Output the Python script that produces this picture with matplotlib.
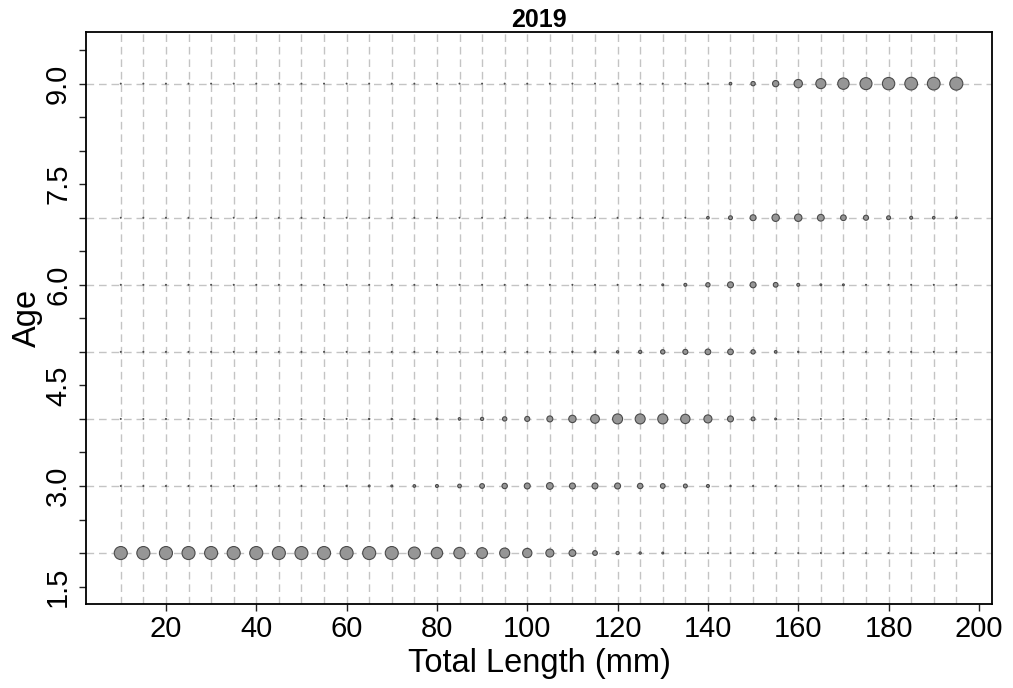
import matplotlib
matplotlib.use("Agg")
import matplotlib.pyplot as plt
import numpy as np

# length classes (mm) and ages
lengths = np.arange(10, 200, 5)
ages = [2, 3, 4, 5, 6, 7, 9]

# proportion at age per length class (area ~ proportion)
p_age2 = [1.0] * 13 + [0.85, 0.76, 0.76, 0.68, 0.59, 0.51, 0.38, 0.27, 0.13, 0.06, 0.03, 0.02] + [0] * 13
p_age3 = [0] * 10 + [0.01, 0.02, 0.02, 0.04, 0.05, 0.08, 0.13, 0.17, 0.21, 0.27, 0.21, 0.21, 0.21,
                     0.17, 0.13, 0.09, 0.05, 0.01] + [0] * 10
p_age4 = [0] * 10 + [0.005, 0.01, 0.01, 0.01, 0.02, 0.04, 0.06, 0.11, 0.15, 0.21, 0.32, 0.45, 0.59,
                     0.59, 0.59, 0.51, 0.38, 0.21, 0.09, 0.02] + [0] * 8
p_age5 = [0] * 20 + [0.01, 0.02, 0.03, 0.06, 0.11, 0.15, 0.19, 0.19, 0.11, 0.04, 0.01] + [0] * 7
p_age6 = [0] * 23 + [0.005, 0.02, 0.05, 0.11, 0.21, 0.21, 0.13, 0.05, 0.02, 0.02] + [0] * 5
p_age7 = [0] * 26 + [0.04, 0.09, 0.21, 0.32, 0.32, 0.27, 0.19, 0.15, 0.09, 0.05, 0.04, 0.02]
p_age9 = [0] * 26 + [0.01, 0.04, 0.11, 0.23, 0.41, 0.59, 0.76, 0.85, 0.90, 0.95, 0.95, 1.0]
props = [p_age2, p_age3, p_age4, p_age5, p_age6, p_age7, p_age9]

plt.rcParams["font.family"] = ["Liberation Sans", "DejaVu Sans"]

fig = plt.figure(figsize=(10.13, 6.88), dpi=100)
ax = fig.add_axes([86 / 1013, 1 - 604 / 688, 906 / 1013, 572 / 688])

grid_kw = dict(color="#c4c4c4", lw=1.0, linestyle=(0, (5.5, 3.5)), zorder=1)
for x in lengths:
    ax.axvline(x, **grid_kw)
for a in ages:
    ax.axhline(a, **grid_kw)

for a, p in zip(ages, props):
    p = np.array(p, dtype=float)
    ax.scatter(lengths, np.full(len(lengths), a), s=np.maximum(p * 88, 0.4),
               facecolor="#969696", edgecolor="#4a4a4a", linewidth=0.8, zorder=3)

ax.set_xlim(2.3, 202.9)
ax.set_ylim(1.24, 9.77)
ax.set_xticks(np.arange(20, 201, 20))
ax.set_yticks(np.arange(1.5, 9.1, 1.5))
ax.set_yticks(np.arange(1.5, 9.6, 0.5), minor=True)
ax.set_yticklabels([f"{v:.1f}" for v in np.arange(1.5, 9.1, 1.5)], rotation=90, va="center")
ax.tick_params(axis="both", which="both", direction="out", length=5, width=1.0,
               labelsize=21, color="#222222")
ax.tick_params(axis="y", pad=5)
ax.tick_params(axis="x", pad=3)

for s in ax.spines.values():
    s.set_color("black")
    s.set_linewidth(1.3)

ax.set_xlabel("Total Length (mm)", fontsize=23.5)
ax.xaxis.set_label_coords(0.5, -0.077)
ax.set_ylabel("Age", fontsize=23.5)
ax.yaxis.set_label_coords(-0.048, 0.5)
ax.set_title("2019", fontsize=18, fontweight="bold", pad=2)

fig.savefig("out.png", dpi=100)
